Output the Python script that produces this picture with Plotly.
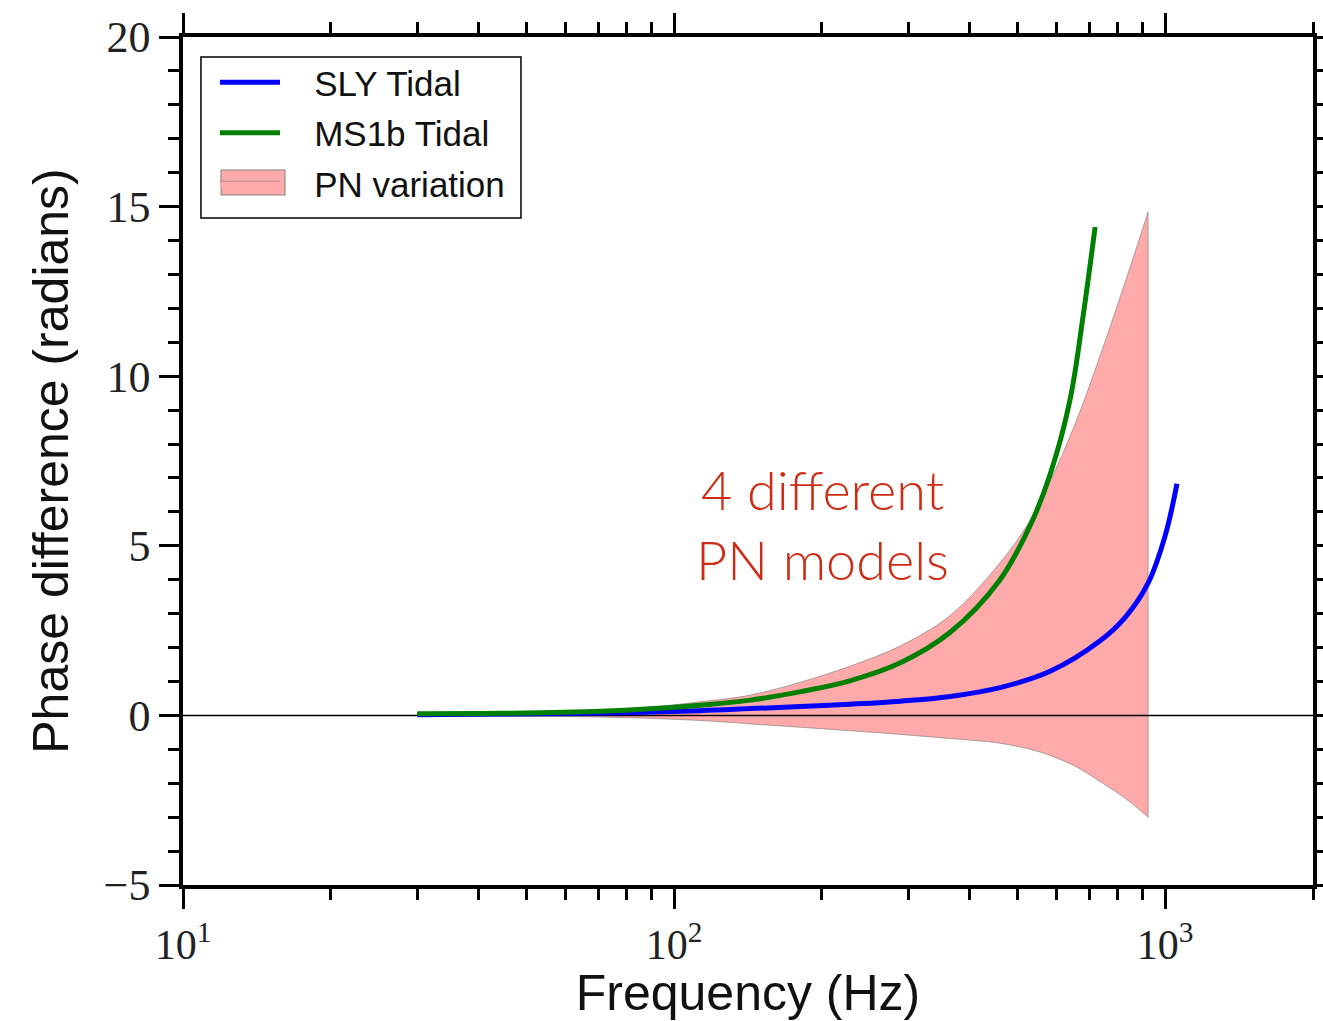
import plotly.graph_objects as go

# ---------------- data ----------------
freq_sly = [30, 44, 71, 113, 143, 181, 228, 289, 365, 461, 583, 737, 830, 923, 1000, 1057]
phase_sly = [0.02, 0.04, 0.07, 0.14, 0.2, 0.26, 0.33, 0.42, 0.56, 0.82, 1.3, 2.2, 2.9, 3.9, 5.3, 6.83]

freq_ms1b = [30, 44, 71, 113, 143, 181, 228, 289, 365, 461, 531, 583, 640, 681, 720]
phase_ms1b = [0.05, 0.06, 0.12, 0.3, 0.45, 0.7, 1.02, 1.55, 2.45, 4.0, 5.6, 7.1, 9.3, 11.8, 14.4]

freq_band = [30, 71, 113, 143, 181, 228, 289, 365, 461, 531, 583, 656, 737, 830, 923]
band_upper = [0.03, 0.12, 0.4, 0.6, 0.98, 1.45, 2.05, 2.95, 4.5, 5.75, 6.9, 8.6, 10.6, 12.8, 14.84]
band_lower = [-0.01, -0.05, -0.15, -0.25, -0.35, -0.45, -0.56, -0.68, -0.82, -1.0, -1.18, -1.5, -1.95, -2.45, -3.0]

x_tickvals = [10, 100, 1000]
x_ticktext = ["10<sup>1</sup>", "10<sup>2</sup>", "10<sup>3</sup>"]
x_minor = [20, 30, 40, 50, 60, 70, 80, 90, 200, 300, 400, 500, 600, 700, 800, 900, 2000]
y_tickvals = [-5, 0, 5, 10, 15, 20]
y_ticktext = ["\u22125", "0", "5", "10", "15", "20"]

names = ["SLY Tidal", "MS1b Tidal", "PN variation"]
annotation_text = "4 different<br>PN models"

PAD = "\u00a0\u00a0\u00a0"
BAND_FILL = "rgb(255,170,170)"
BAND_EDGE = "rgba(120,120,120,0.6)"

# ---------------- figure ----------------
fig = go.Figure()

# PN variation band: lower edge, then upper edge filled to it
fig.add_trace(go.Scatter(
    x=freq_band, y=band_lower, mode="lines", line_shape="spline",
    line=dict(color=BAND_EDGE, width=1),
    showlegend=False, hoverinfo="skip", legendgroup="c",
))
fig.add_trace(go.Scatter(
    x=freq_band, y=band_upper, mode="lines", line_shape="spline",
    fill="tonexty", fillcolor=BAND_FILL,
    line=dict(color=BAND_EDGE, width=1),
    name=PAD + names[2], legendrank=3, legendgroup="c",
    hoverinfo="skip",
))
# right closing edge of the band
fig.add_trace(go.Scatter(
    x=[freq_band[-1], freq_band[-1]], y=[band_lower[-1], band_upper[-1]],
    mode="lines", line=dict(color=BAND_EDGE, width=1),
    showlegend=False, hoverinfo="skip",
))

# zero line
fig.add_trace(go.Scatter(
    x=[10, 2000], y=[0, 0], mode="lines",
    line=dict(color="black", width=1.5),
    showlegend=False, hoverinfo="skip",
))

fig.add_trace(go.Scatter(
    x=freq_sly, y=phase_sly, mode="lines", line_shape="spline",
    line=dict(color="rgb(0,0,255)", width=5),
    name=PAD + names[0], legendrank=1, legendgroup="a",
))
fig.add_trace(go.Scatter(
    x=freq_ms1b, y=phase_ms1b, mode="lines", line_shape="spline",
    line=dict(color="rgb(0,128,0)", width=5),
    name=PAD + names[1], legendrank=2, legendgroup="b",
))

serif = "Liberation Serif, Times New Roman, serif"
sans = "Liberation Sans, Arial, Helvetica, sans-serif"

fig.update_layout(
    width=1323, height=1021,
    margin=dict(l=183, r=10, t=37, b=136),
    paper_bgcolor="white", plot_bgcolor="white",
    showlegend=True,
    legend=dict(
        x=0.0283, y=0.9812, xanchor="left", yanchor="top",
        bgcolor="rgba(0,0,0,0)", borderwidth=0,
        font=dict(family=sans, size=35, color="#111"),
        tracegroupgap=2, itemwidth=60,
    ),
    shapes=[
        # legend frame
        dict(type="rect", xref="paper", yref="paper",
             x0=0.0159, x1=0.2991, y0=0.7866, y1=0.9764,
             line=dict(color="black", width=1.5), fillcolor="rgba(0,0,0,0)",
             layer="above"),
        # legend swatch for the band (patch style)
        dict(type="rect", xref="paper", yref="paper",
             x0=0.0336, x1=0.0903, y0=0.8137, y1=0.8432,
             line=dict(color=BAND_EDGE, width=1.5), fillcolor=BAND_FILL,
             layer="above"),
    ],
    annotations=[dict(
        x=0.566, y=0.4257, xref="paper", yref="paper",
        text=annotation_text, showarrow=False,
        font=dict(family="Lato, Helvetica, Arial, sans-serif", size=54,
                  color="rgb(205,45,20)", weight=300),
        align="center", xanchor="center", yanchor="middle",
    )],
)

fig.update_xaxes(
    type="log", range=[1, 3.30103], automargin=False,
    showline=True, linecolor="black", linewidth=3.5, mirror="allticks",
    ticks="outside", ticklen=20, tickwidth=3, tickcolor="black",
    tickmode="array", tickvals=x_tickvals, ticktext=x_ticktext,
    tickfont=dict(family=serif, size=42, color="#222"),
    minor=dict(tickmode="array", tickvals=x_minor, ticklen=11, tickwidth=2.5,
               tickcolor="black", ticks="outside", showgrid=False),
    showgrid=False, zeroline=False,
    title=dict(text="Frequency (Hz)", font=dict(family=sans, size=50, color="#111"),
               standoff=14),
)
fig.update_yaxes(
    range=[-5, 20], automargin=False,
    showline=True, linecolor="black", linewidth=3.5, mirror="allticks",
    ticks="outside", ticklen=20, tickwidth=3, tickcolor="black",
    tickmode="array", tickvals=y_tickvals, ticktext=y_ticktext,
    tickfont=dict(family=serif, size=44, color="#222"),
    minor=dict(dtick=1, ticklen=11, tickwidth=2.5, tickcolor="black",
               ticks="outside", showgrid=False),
    showgrid=False, zeroline=False,
    title=dict(text="Phase difference (radians)", font=dict(family=sans, size=50, color="#111"),
               standoff=20),
)

fig.write_html("out.html")
